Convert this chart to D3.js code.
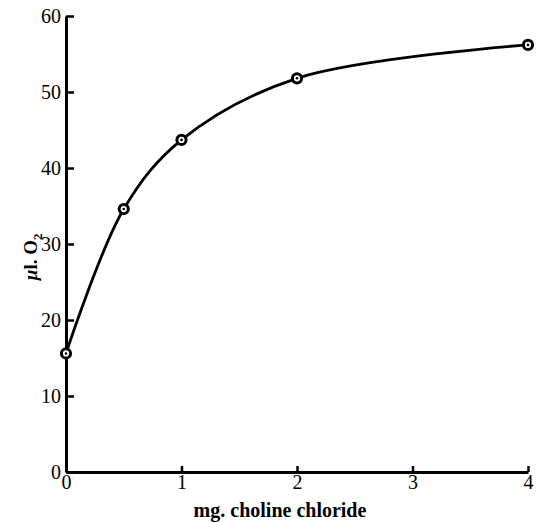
<!DOCTYPE html>
<html>
<head>
<meta charset="utf-8">
<script src="https://cdn.jsdelivr.net/npm/d3@7"></script>
<style>
  body { margin: 0; background: #fff; }
  svg text { font-family: "Liberation Serif", "Times New Roman", "DejaVu Serif", Times, serif !important; fill: #000; }
  .axis path, .axis line { stroke: #000; }
</style>
</head>
<body>
<div id="chart"></div>
<script>
// data
var doses = [0, 0.5, 1, 2, 4];          // mg. choline chloride
var oxygen = [15.6, 34.6, 43.7, 51.8, 56.2]; // µl. O2
var xTicks = [0, 1, 2, 3, 4];
var yTicks = [0, 10, 20, 30, 40, 50, 60];

var width = 541,
    height = 523,
    margin = { top: 16, right: 13, bottom: 51, left: 66 },
    w = width - margin.left - margin.right,
    h = height - margin.top - margin.bottom;

var svg = d3.select("#chart").append("svg")
    .attr("width", width)
    .attr("height", height);

var g = svg.append("g")
    .attr("transform", "translate(" + margin.left + "," + margin.top + ")");

var x = d3.scaleLinear().domain([0, 4]).range([0, w]);
var y = d3.scaleLinear().domain([0, 60]).range([h, 0]);

// x axis, ticks pointing into the plot
var xAxis = g.append("g")
    .attr("class", "axis")
    .attr("font-family", null)
    .call(d3.axisBottom(x).tickValues(xTicks).tickSizeInner(-6).tickSizeOuter(0).tickPadding(3)
        .tickFormat(d3.format("d")));
xAxis.attr("transform", "translate(0," + h + ")").attr("font-family", null);
xAxis.select(".domain").attr("stroke-width", 3);
xAxis.selectAll(".tick line").attr("stroke-width", 2.5);
xAxis.selectAll("text").style("font-size", "20px");

// y axis
var yAxis = g.append("g")
    .attr("class", "axis")
    .call(d3.axisLeft(y).tickValues(yTicks).tickSizeInner(-8).tickSizeOuter(0).tickPadding(5)
        .tickFormat(d3.format("d")));
yAxis.attr("font-family", null);
yAxis.select(".domain").attr("stroke-width", 3);
yAxis.selectAll(".tick line").attr("stroke-width", 2.5);
yAxis.selectAll("text").style("font-size", "20px");

// axis titles
svg.append("text")
    .attr("x", margin.left + w / 2 - 17)
    .attr("y", 517)
    .attr("text-anchor", "middle")
    .style("font-weight", "bold")
    .style("font-size", "20px")
    .text("mg. choline chloride");

var yt = svg.append("text")
    .attr("transform", "translate(37,257) rotate(-90)")
    .attr("text-anchor", "middle")
    .style("font-weight", "bold")
    .style("font-size", "19px");
yt.append("tspan").style("font-style", "italic").text("\u00b5");
yt.append("tspan").text("l. O");
yt.append("tspan").attr("dy", 5).style("font-size", "13px").text("2");

// smooth curve through the points
var pts = doses.map(function (d, i) { return [d, oxygen[i]]; });
var line = d3.line()
    .x(function (d) { return x(d[0]); })
    .y(function (d) { return y(d[1]); })
    .curve(d3.curveCatmullRom.alpha(0.5));

g.append("path")
    .datum(pts)
    .attr("d", line)
    .attr("fill", "none")
    .attr("stroke", "#000")
    .attr("stroke-width", 2.8);

// ring markers with a centre dot
g.selectAll("circle.ring")
    .data(pts)
    .enter().append("circle")
    .attr("class", "ring")
    .attr("cx", function (d) { return x(d[0]); })
    .attr("cy", function (d) { return y(d[1]); })
    .attr("r", 4.6)
    .attr("fill", "#fff")
    .attr("stroke", "#000")
    .attr("stroke-width", 3);

g.selectAll("circle.dot")
    .data(pts)
    .enter().append("circle")
    .attr("class", "dot")
    .attr("cx", function (d) { return x(d[0]); })
    .attr("cy", function (d) { return y(d[1]); })
    .attr("r", 1.3)
    .attr("fill", "#000");
</script>
</body>
</html>
